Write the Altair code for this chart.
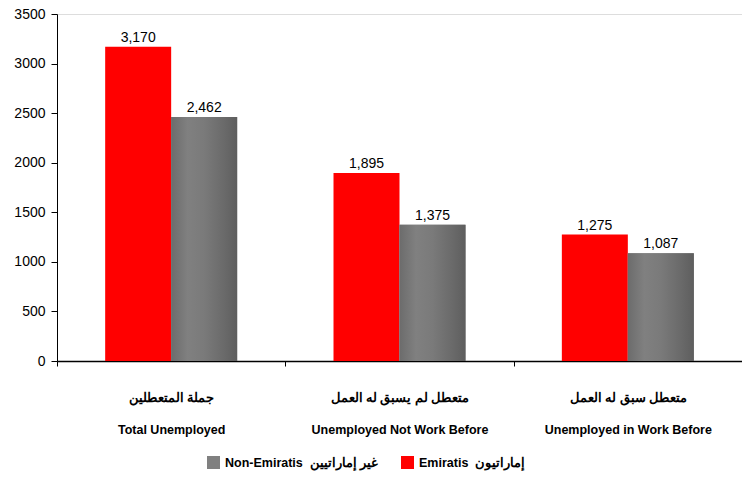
import altair as alt
import pandas as pd

cat_ar = ["جملة المتعطلين", "متعطل لم يسبق له العمل", "متعطل سبق له العمل"]
cat_en = ["Total Unemployed", "Unemployed Not Work Before", "Unemployed in Work Before"]
series = ["Emiratis", "Non-Emiratis"]
series_labels = {"Emiratis": "Emiratis\u00a0\u00a0إماراتيون",
                 "Non-Emiratis": "Non-Emiratis\u00a0\u00a0غير إماراتيين"}
emiratis = [3170, 1895, 1275]
non_emiratis = [2462, 1375, 1087]

rows = []
for i in range(len(cat_en)):
    cat = cat_ar[i] + "|" + cat_en[i]
    rows.append({"category": cat, "series": series_labels["Emiratis"], "order": 0, "value": emiratis[i]})
    rows.append({"category": cat, "series": series_labels["Non-Emiratis"], "order": 1, "value": non_emiratis[i]})
df = pd.DataFrame(rows)
cats = [cat_ar[i] + "|" + cat_en[i] for i in range(len(cat_en))]
off_domain = [series_labels["Emiratis"], series_labels["Non-Emiratis"]]

FONT = "Liberation Sans"

x = alt.X("category:N", sort=cats, scale=alt.Scale(paddingInner=0, paddingOuter=0),
          axis=alt.Axis(title=None, labelAngle=0, tickBand="extent", tickSize=5,
                        labelExpr="isValid(datum.value) ? split(datum.value, '|') : ''",
                        labelLineHeight=32, labelLimit=0,
                        labelPadding=25, labelFont=FONT, labelFontSize=12.5,
                        labelFontWeight="bold", labelColor="#000000",
                        domainColor="#000000", tickColor="#000000", domainWidth=1.5))
xo = alt.XOffset("series:N", sort=off_domain,
                 scale=alt.Scale(domain=off_domain, paddingInner=0, paddingOuter=0.73))
y = alt.Y("value:Q", scale=alt.Scale(domain=[0, 3500], nice=False),
          axis=alt.Axis(title=None, values=list(range(0, 3501, 500)), grid=False, format="d",
                        tickSize=6, labelPadding=6, labelFont=FONT, labelFontSize=14,
                        labelColor="#000000", domainColor="#000000", tickColor="#000000"))

bars = alt.Chart(df).mark_bar().encode(
    x=x, xOffset=xo, y=y,
    color=alt.Color("series:N",
                    scale=alt.Scale(domain=[series_labels["Non-Emiratis"], series_labels["Emiratis"]],
                                    range=["#808080", "#FF0000"]),
                    legend=alt.Legend(title=None, orient="none", legendX=150, legendY=442,
                                      direction="horizontal", symbolType="square", symbolSize=169,
                                      symbolStrokeWidth=0, columnPadding=22, labelFont=FONT,
                                      labelFontSize=12.5, labelFontWeight="bold", labelColor="#000000",
                                      labelOffset=5, labelLimit=0)),
)

gray = alt.Chart(df).transform_filter(
    alt.datum.series == series_labels["Non-Emiratis"]
).mark_bar(fill=alt.LinearGradient(
    gradient="linear", x1=0, x2=1, y1=0, y2=0,
    stops=[alt.GradientStop(offset=0, color="#6c6c6c"),
           alt.GradientStop(offset=0.25, color="#808080"),
           alt.GradientStop(offset=0.5, color="#7a7a7a"),
           alt.GradientStop(offset=0.8, color="#6a6a6a"),
           alt.GradientStop(offset=1, color="#5e5e5e")])).encode(x=x, xOffset=xo, y=y)

labels = alt.Chart(df).mark_text(dy=-9, fontSize=14, font=FONT, color="#000000").encode(
    x=x, xOffset=xo, y=y, text=alt.Text("value:Q", format=","))

chart = alt.layer(bars, gray, labels).properties(
    width=685, height=347,
    autosize=alt.AutoSizeParams(type="none"),
    padding={"left": 57, "top": 14, "right": 0, "bottom": 116},
).configure_view(stroke=None).configure(background="white")

chart.save("out.html", embed_options={"renderer": "svg", "actions": False})
